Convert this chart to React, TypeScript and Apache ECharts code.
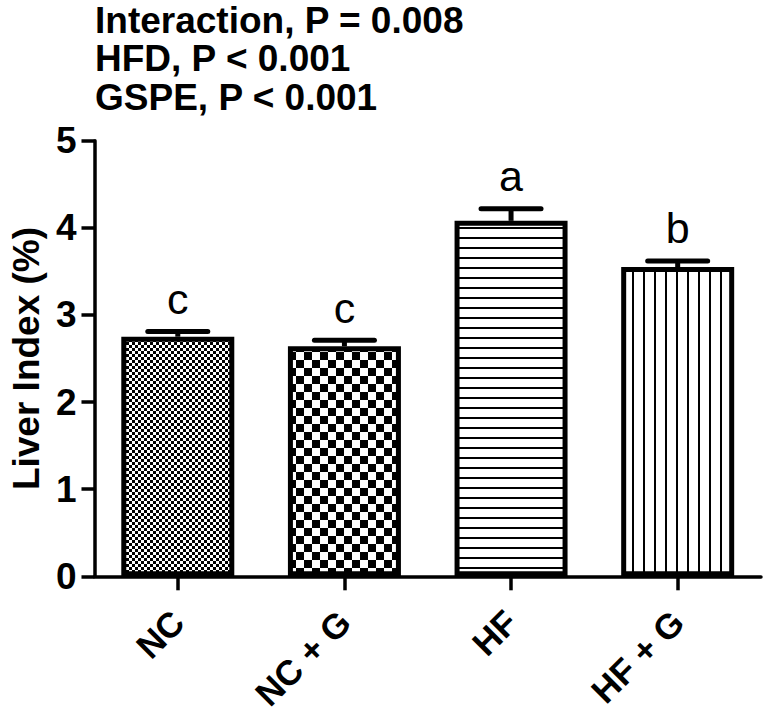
import React, { useEffect, useRef } from "react";
import * as echarts from "echarts";

const categories = ["NC", "NC + G", "HF", "HF + G"];
const means = [2.75, 2.64, 4.08, 3.55];
const sems = [0.06, 0.07, 0.14, 0.07];
const letters = ["c", "c", "a", "b"];
const titleLines = ["Interaction, P = 0.008", "HFD, P < 0.001", "GSPE, P < 0.001"];
const yAxisName = "Liver Index (%)";

const FONT = '"Liberation Sans", Arial, Helvetica, sans-serif';

function svgPattern(w: number, h: number, inner: string) {
  const svg = `<svg xmlns="http://www.w3.org/2000/svg" width="${w}" height="${h}" shape-rendering="crispEdges"><rect width="${w}" height="${h}" fill="#fff"/>${inner}</svg>`;
  return {
    image: "data:image/svg+xml;charset=utf-8," + encodeURIComponent(svg),
    repeat: "repeat",
    imageWidth: w,
    imageHeight: h,
  };
}

const patterns = [
  svgPattern(6, 6, '<rect x="0" y="0" width="3" height="3" fill="#000"/><rect x="3" y="3" width="3" height="3" fill="#000"/>'),
  svgPattern(16, 16, '<rect x="0" y="0" width="8" height="8" fill="#000"/><rect x="8" y="8" width="8" height="8" fill="#000"/>'),
  svgPattern(10, 10, '<rect x="0" y="7" width="10" height="2" fill="#000"/>'),
  svgPattern(11, 11, '<rect x="5" y="0" width="2" height="11" fill="#000"/>'),
];

export default function App() {
  const ref = useRef<HTMLDivElement>(null);

  useEffect(() => {
    document.body.style.margin = "0";
    const chart = echarts.init(ref.current!, null, { renderer: "svg" });
    const option: any = {
      animation: false,
      backgroundColor: "#fff",
      textStyle: { fontFamily: FONT, color: "#000" },
      grid: { left: 93, right: 4, top: 140.7, bottom: 133.3 },
      graphic: titleLines.map((t, i) => ({
        type: "text",
        x: 95,
        y: 20 + i * 38.5,
        style: {
          text: t,
          fontFamily: FONT,
          fontSize: 37,
          fontWeight: "bold",
          fill: "#000",
          textVerticalAlign: "middle",
        },
      })),
      xAxis: {
        type: "category",
        data: categories,
        axisLine: { show: true, lineStyle: { color: "#000", width: 3.5 } },
        axisTick: { show: true, alignWithLabel: true, length: 14, lineStyle: { color: "#000", width: 3.5 } },
        axisLabel: {
          interval: 0,
          rotate: 45,
          margin: 40,
          fontSize: 35,
          fontWeight: "bold",
          fontFamily: FONT,
          color: "#000",
        },
        splitLine: { show: false },
      },
      yAxis: {
        type: "value",
        min: 0,
        max: 5,
        interval: 1,
        name: yAxisName,
        nameLocation: "middle",
        nameGap: 46,
        nameTextStyle: { fontSize: 37, fontWeight: "bold", fontFamily: FONT, color: "#000" },
        axisLine: { show: true, lineStyle: { color: "#000", width: 3.5 } },
        axisTick: { show: true, length: 13, lineStyle: { color: "#000", width: 3.5 } },
        axisLabel: { margin: 18, fontSize: 37, fontWeight: "bold", fontFamily: FONT, color: "#000" },
        splitLine: { show: false },
      },
      series: [
        {
          type: "bar",
          barWidth: 113,
          data: means.map((v, i) => ({
            value: v,
            itemStyle: { color: patterns[i], borderColor: "#000", borderWidth: 5 },
          })),
          z: 2,
        },
        {
          type: "custom",
          z: 5,
          data: categories.map((c, i) => [i, means[i], sems[i]]),
          encode: { x: 0, y: 1 },
          renderItem: (params: any, api: any) => {
            const idx = api.value(0);
            const m = api.value(1);
            const s = api.value(2);
            const base = api.coord([idx, m]);
            const top = api.coord([idx, m + s]);
            const x = base[0];
            return {
              type: "group",
              children: [
                {
                  type: "line",
                  shape: { x1: x, y1: base[1], x2: x, y2: top[1] },
                  style: { stroke: "#000", lineWidth: 5 },
                },
                {
                  type: "line",
                  shape: { x1: x - 30, y1: top[1], x2: x + 30, y2: top[1] },
                  style: { stroke: "#000", lineWidth: 5, lineCap: "round" },
                },
                {
                  type: "text",
                  x: x,
                  y: top[1] - 11,
                  style: {
                    text: letters[params.dataIndex],
                    fontFamily: FONT,
                    fontSize: 43,
                    fill: "#000",
                    textAlign: "center",
                    textVerticalAlign: "bottom",
                  },
                },
              ],
            };
          },
        },
      ],
    };
    chart.setOption(option);
    return () => chart.dispose();
  }, []);

  return (
    <div
      ref={ref}
      style={{ position: "fixed", left: 0, top: 0, width: 765, height: 714 }}
    />
  );
}
